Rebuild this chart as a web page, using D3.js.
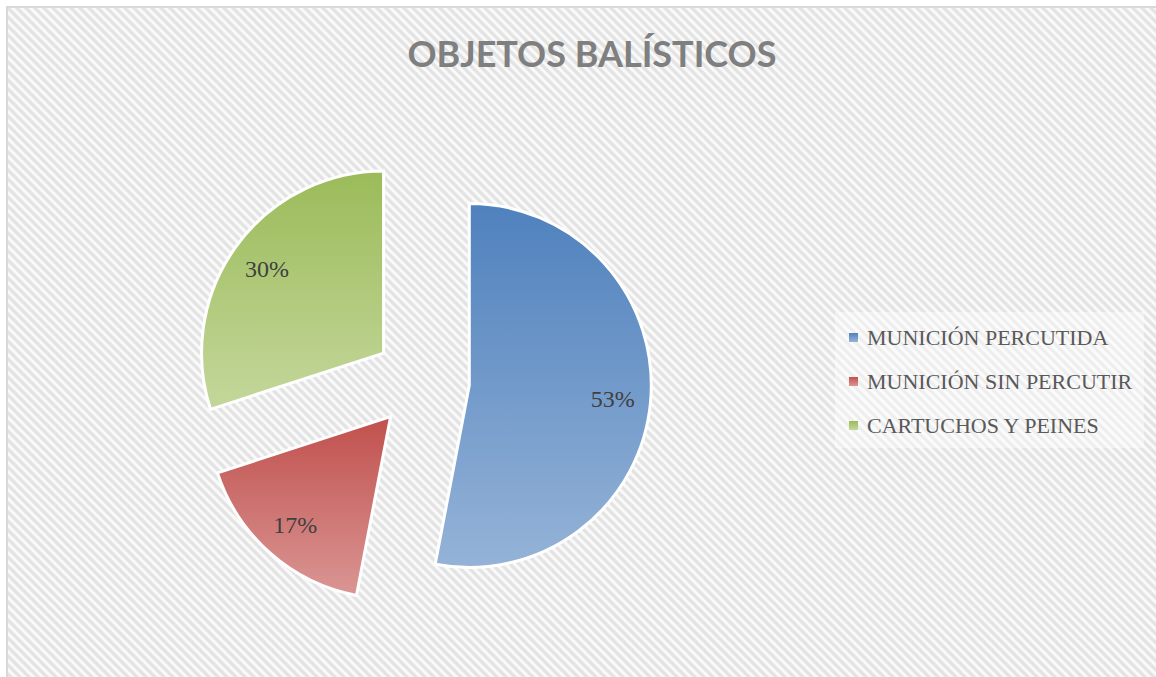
<!DOCTYPE html>
<html>
<head>
<meta charset="utf-8">
<script src="https://cdn.jsdelivr.net/npm/d3@7"></script>
<style>
  body { margin: 0; background: #fff; }
  svg { display: block; }
</style>
</head>
<body>
<svg id="chart" width="1156" height="677"></svg>
<script>
var categories = ["MUNICIÓN PERCUTIDA", "MUNICIÓN SIN PERCUTIR", "CARTUCHOS Y PEINES"];
var values = [53, 17, 30];
var labels = ["53%", "17%", "30%"];
var topColors = ["#4f81bd", "#c0504d", "#9bbb59"];
var bottomColors = ["#95b3d7", "#da9694", "#c4d79b"];

var width = 1156, height = 677;
var cx = 422, cy = 381, radius = 182, explode = 47.5, labelRadius = 144;

var svg = d3.select("#chart");
var defs = svg.append("defs");

// diagonal hatch background
var pat = defs.append("pattern")
  .attr("id", "hatch")
  .attr("patternUnits", "userSpaceOnUse")
  .attr("width", 9)
  .attr("height", 9);
pat.append("rect").attr("width", 9).attr("height", 9).attr("fill", "#f9f9f9");
pat.append("path")
  .attr("d", "M-2,-2 L11,11 M-2,7 L2,11 M7,-2 L11,2")
  .attr("stroke", "#e3e3e3")
  .attr("stroke-width", 3.2);

// gradients for slices
topColors.forEach(function(c, i) {
  var g = defs.append("linearGradient")
    .attr("id", "grad" + i)
    .attr("x1", 0).attr("y1", 0).attr("x2", 0).attr("y2", 1);
  g.append("stop").attr("offset", "0%").attr("stop-color", c);
  g.append("stop").attr("offset", "100%").attr("stop-color", bottomColors[i]);
});

svg.append("rect")
  .attr("x", 7).attr("y", 7)
  .attr("width", width + 10).attr("height", height + 10)
  .attr("fill", "url(#hatch)")
  .attr("stroke", "#d9d9d9")
  .attr("stroke-width", 2);

svg.append("text")
  .attr("x", 592)
  .attr("y", 67)
  .attr("text-anchor", "middle")
  .style("font-family", "Lato, sans-serif")
  .style("font-weight", "bold")
  .style("font-size", "36px")
  .style("fill", "#7f7f7f")
  .text("OBJETOS BALÍSTICOS");

var pie = d3.pie().sort(null).value(function(d) { return d; });
var arc = d3.arc().innerRadius(0).outerRadius(radius);
var arcs = pie(values);

function offset(d, r) {
  var a = (d.startAngle + d.endAngle) / 2;
  return [Math.sin(a) * r, -Math.cos(a) * r];
}

var slices = svg.append("g")
  .attr("transform", "translate(" + cx + "," + cy + ")")
  .selectAll("g")
  .data(arcs)
  .enter()
  .append("g")
  .attr("transform", function(d) {
    var o = offset(d, explode);
    return "translate(" + o[0] + "," + o[1] + ")";
  });

slices.append("path")
  .attr("d", arc)
  .attr("fill", function(d, i) { return "url(#grad" + i + ")"; })
  .attr("stroke", "#fff")
  .attr("stroke-width", 3)
  .attr("stroke-linejoin", "miter");

slices.append("text")
  .attr("x", function(d) { return offset(d, labelRadius)[0]; })
  .attr("y", function(d) { return offset(d, labelRadius)[1]; })
  .attr("dy", "0.35em")
  .attr("text-anchor", "middle")
  .style("font-family", "'Liberation Serif', serif")
  .style("font-size", "24px")
  .style("fill", "#404040")
  .text(function(d, i) { return labels[i]; });

// legend
var legend = svg.append("g");
legend.append("rect")
  .attr("x", 835).attr("y", 312)
  .attr("width", 309).attr("height", 136)
  .attr("fill", "#fff")
  .attr("opacity", 0.4);

var items = legend.selectAll("g.item")
  .data(categories)
  .enter()
  .append("g")
  .attr("class", "item")
  .attr("transform", function(d, i) { return "translate(849," + (333 + i * 44) + ")"; });

items.append("rect")
  .attr("width", 9).attr("height", 9)
  .attr("fill", function(d, i) { return "url(#grad" + i + ")"; });

items.append("text")
  .attr("x", 18)
  .attr("y", 12)
  .style("font-family", "'Liberation Serif', serif")
  .style("font-size", "22px")
  .style("fill", "#595959")
  .text(function(d) { return d; });
</script>
</body>
</html>
